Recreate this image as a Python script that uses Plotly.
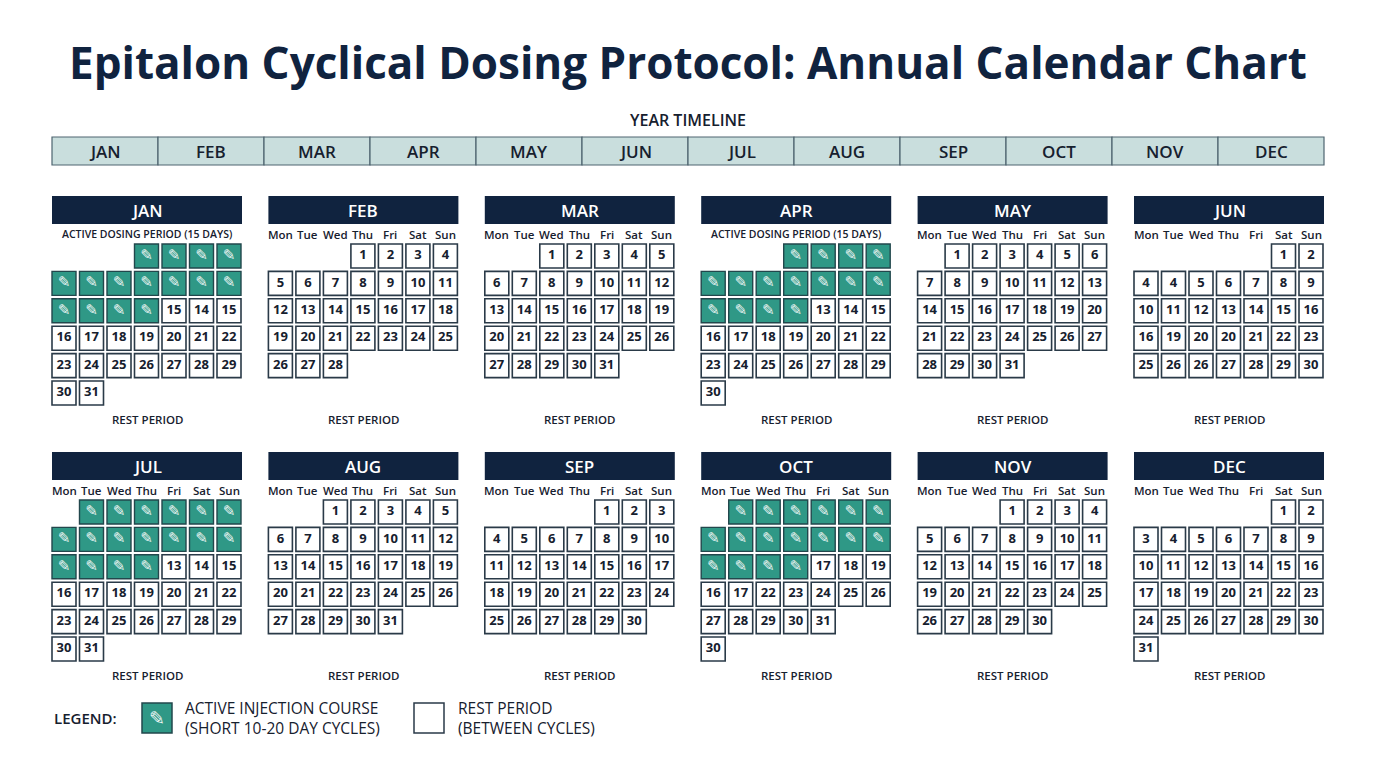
import plotly.graph_objects as go

MONTHS = ["JAN","FEB","MAR","APR","MAY","JUN","JUL","AUG","SEP","OCT","NOV","DEC"]
WEEKDAYS = ["Mon","Tue","Wed","Thu","Fri","Sat","Sun"]
# first weekday column (0=Mon) of each month as drawn
OFFSETS = [3,3,2,3,1,5,1,2,4,1,3,5]
# number of active injection days at month start
ACTIVE = [15,0,0,15,0,0,17,0,0,17,0,0]
# day labels of the non-active cells, as printed in the reference ("" = empty slot)
LABELS = [
    ["15","14","15"]+[str(d) for d in range(16,32)],
    [str(d) for d in range(1,29)],
    [str(d) for d in range(1,32)],
    ["13","14","15"]+[str(d) for d in range(16,31)],
    [str(d) for d in range(1,32)],
    ["1","2","4","4","5","6","7","8","9"]+[str(d) for d in range(10,17)]+["16","19","20","20","21","22","23","25","26","26","27","28","29","30"],
    ["13","14","15"]+[str(d) for d in range(16,32)],
    [str(d) for d in range(1,32)],
    [str(d) for d in range(1,31)],
    ["17","18","19","16","17","22","23","24","25","26","27","28","29","30","31","","","30"],
    [str(d) for d in range(1,31)],
    [str(d) for d in range(1,32)],
]
SUBTITLE = ["ACTIVE DOSING PERIOD (15 DAYS)" if a == 15 else "" for a in ACTIVE]

NAVY = "#10233f"; TEAL = "#2f9886"; EDGE = "#2a3a48"; TXT = "#16202e"
F = "Open Sans"

fig = go.Figure()
shapes, ann = [], []

# Year timeline
TX0, TW = 52, 106
for i, m in enumerate(MONTHS):
    shapes.append(dict(type="rect", x0=TX0+i*TW, x1=TX0+(i+1)*TW, y0=137, y1=165,
                       fillcolor="#c9dedd", line=dict(color="#4e6470", width=1.2)))
    ann.append(dict(x=TX0+(i+0.5)*TW, y=151, text=m, showarrow=False,
                    font=dict(family=F, size=17, color=TXT, weight=600)))
ann.append(dict(x=688, y=120, text="YEAR TIMELINE", showarrow=False,
                font=dict(family=F, size=16, color=TXT, weight=600)))
ann.append(dict(x=688, y=62, text="<b>Epitalon Cyclical Dosing Protocol: Annual Calendar Chart</b>",
                showarrow=False, font=dict(family=F, size=44, color=NAVY)))

BW, BSP, CS = 190, 216.4, 27.5
ax_, ay_, atx = [], [], []
rx, ry, rtx = [], [], []
for mi, m in enumerate(MONTHS):
    col, row = mi % 6, mi // 6
    bx = 52 + col*BSP
    top = 196 + row*256
    shapes.append(dict(type="rect", x0=bx, x1=bx+BW, y0=top, y1=top+28,
                       fillcolor=NAVY, line=dict(width=0)))
    ann.append(dict(x=bx+BW/2, y=top+14, text=m, showarrow=False,
                    font=dict(family=F, size=17, color="white", weight=600)))
    if SUBTITLE[mi]:
        ann.append(dict(x=bx+BW/2, y=top+38, text=SUBTITLE[mi], showarrow=False,
                        font=dict(family=F, size=10.5, color=TXT, weight=600)))
    else:
        for k, wd in enumerate(WEEKDAYS):
            ann.append(dict(x=bx+12+k*CS, y=top+38, text=wd, showarrow=False,
                            font=dict(family=F, size=11.5, color=TXT, weight=600)))
    cells = ["A"]*ACTIVE[mi] + LABELS[mi]
    for idx, lab in enumerate(cells):
        if lab == "":
            continue
        pos = OFFSETS[mi] + idx
        cx = bx + 12 + (pos % 7)*CS
        cy = top + 60 + (pos // 7)*27.4
        if lab == "A":
            ax_.append(cx); ay_.append(cy); atx.append("✎")
        else:
            rx.append(cx); ry.append(cy); rtx.append("<b>"+lab+"</b>")
    ann.append(dict(x=bx+BW/2, y=top+223, text="REST PERIOD", showarrow=False,
                    font=dict(family=F, size=11.5, color=TXT, weight=600)))

fig.add_trace(go.Scatter(x=rx, y=ry, mode="markers+text", text=rtx,
    marker=dict(symbol="square", size=24, color="white", line=dict(color=EDGE, width=1.6)),
    textfont=dict(family=F, size=13, color=TXT), textposition="middle center", hoverinfo="skip"))
fig.add_trace(go.Scatter(x=ax_, y=ay_, mode="markers+text", text=atx,
    marker=dict(symbol="square", size=24, color=TEAL, line=dict(color="#22474c", width=1.4)),
    textfont=dict(family="DejaVu Sans", size=15, color="#eaf4f2"), textposition="middle center", hoverinfo="skip"))

# Legend
ann.append(dict(x=52, y=718, xanchor="left", text="LEGEND:", showarrow=False,
                font=dict(family=F, size=15, color=TXT, weight=600)))
shapes.append(dict(type="rect", x0=142, x1=172, y0=703, y1=733, fillcolor=TEAL,
                   line=dict(color="#22474c", width=1.5)))
ann.append(dict(x=157, y=718, text="✎", showarrow=False,
                font=dict(family="DejaVu Sans", size=19, color="#eaf4f2")))
ann.append(dict(x=183, y=718, xanchor="left", align="left",
                text="ACTIVE INJECTION COURSE<br>(SHORT 10-20 DAY CYCLES)", showarrow=False,
                font=dict(family=F, size=15.5, color=TXT, weight=500)))
shapes.append(dict(type="rect", x0=414, x1=444, y0=703, y1=733, fillcolor="white",
                   line=dict(color=EDGE, width=1.5)))
ann.append(dict(x=456, y=718, xanchor="left", align="left",
                text="REST PERIOD<br>(BETWEEN CYCLES)", showarrow=False,
                font=dict(family=F, size=15.5, color=TXT, weight=500)))

for s in shapes:
    s.update(xref="x", yref="y", layer="below")
fig.update_layout(width=1376, height=768, margin=dict(l=0, r=0, t=0, b=0),
    paper_bgcolor="white", plot_bgcolor="white", showlegend=False,
    shapes=shapes, annotations=ann,
    xaxis=dict(range=[8,1384], visible=False, fixedrange=True),
    yaxis=dict(range=[776,8], visible=False, fixedrange=True))
fig.write_html("out.html")
